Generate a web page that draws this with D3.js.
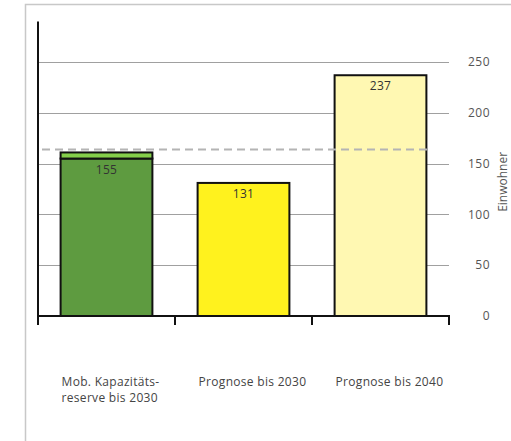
<!DOCTYPE html>
<html>
<head>
<meta charset="utf-8">
<script src="https://cdn.jsdelivr.net/npm/d3@7"></script>
<style>
  html, body { margin: 0; padding: 0; background: #fff; overflow: hidden; }
  svg { display: block; }
</style>
</head>
<body>
<script>
// Einwohner: mobilisierbare Kapazitätsreserve vs. Prognosen
const categories = ["Mob. Kapazitäts-\nreserve bis 2030", "Prognose bis 2030", "Prognose bis 2040"];
const values = [155, 131, 237];
const extraReserve = [6, 0, 0];
const barColors = ["#5e9b40", "#fff21e", "#fff8b2"];
const extraColor = "#84cf4a";
const referenceLine = 164;
const yTicks = [0, 50, 100, 150, 200, 250];
const axisTitle = "Einwohner";

const W = 511, H = 441;
const svg = d3.select("body").append("svg").attr("width", W).attr("height", H);

// outer frame
svg.append("rect").attr("x", 25.5).attr("y", 4.5).attr("width", W).attr("height", H)
  .attr("fill", "none").attr("stroke", "#c8c8c8").attr("stroke-width", 1.5);

const x0 = 38, x1 = 449;
const x = d3.scaleBand().domain(categories).range([x0, x1]).paddingInner(0.33).paddingOuter(0.165);
const y = d3.scaleLinear().domain([0, 290]).range([316, 21.4]);

const font = "'Open Sans', 'Noto Sans', sans-serif";

// horizontal grid lines
svg.append("g").selectAll("line").data(yTicks.filter(d => d > 0)).join("line")
  .attr("x1", x0).attr("x2", x1)
  .attr("y1", d => Math.round(y(d)) + 0.5).attr("y2", d => Math.round(y(d)) + 0.5)
  .attr("stroke", "#a0a0a0").attr("stroke-width", 1);

// right-hand tick labels
svg.append("g").selectAll("text").data(yTicks).join("text")
  .attr("x", 490).attr("y", d => y(d)).attr("dy", "0.35em")
  .attr("text-anchor", "end").attr("font-family", font).attr("font-size", 12)
  .attr("letter-spacing", 0.5)
  .attr("fill", "#555").text(d => d);

// axis title
svg.append("text")
  .attr("transform", `translate(507, ${y(132)}) rotate(-90)`)
  .attr("text-anchor", "middle").attr("font-family", font).attr("font-size", 12)
  .attr("fill", "#555").text(axisTitle);

// bars
const bars = svg.append("g");
bars.selectAll("rect.main").data(categories).join("rect").attr("class", "main")
  .attr("x", d => x(d)).attr("width", x.bandwidth())
  .attr("y", (d, i) => y(values[i])).attr("height", (d, i) => y(0) - y(values[i]))
  .attr("fill", (d, i) => barColors[i]).attr("stroke", "#111").attr("stroke-width", 2);

bars.selectAll("rect.extra").data(categories.filter((d, i) => extraReserve[i] > 0)).join("rect")
  .attr("class", "extra")
  .attr("x", d => x(d)).attr("width", x.bandwidth())
  .attr("y", d => y(values[categories.indexOf(d)] + extraReserve[categories.indexOf(d)]))
  .attr("height", d => y(values[categories.indexOf(d)]) - y(values[categories.indexOf(d)] + extraReserve[categories.indexOf(d)]))
  .attr("fill", extraColor).attr("stroke", "#111").attr("stroke-width", 2);

// value labels
svg.append("g").selectAll("text").data(categories).join("text")
  .attr("x", d => x(d) + x.bandwidth() / 2).attr("y", (d, i) => y(values[i]) + 15)
  .attr("text-anchor", "middle").attr("font-family", font).attr("font-size", 12)
  .attr("letter-spacing", 0.3)
  .attr("fill", "#333").text((d, i) => values[i]);

// dashed reference line
svg.append("line")
  .attr("x1", 42).attr("x2", x(categories[2]) + x.bandwidth() + 1)
  .attr("y1", y(referenceLine)).attr("y2", y(referenceLine))
  .attr("stroke", "#b4b4b4").attr("stroke-width", 2).attr("stroke-dasharray", "8,5");

// left axis line and baseline with category ticks
const axisG = svg.append("g").attr("stroke", "#111").attr("stroke-width", 2);
axisG.append("line").attr("x1", x0).attr("x2", x0).attr("y1", y(290)).attr("y2", y(0) + 9);
axisG.append("line").attr("x1", x0 - 1).attr("x2", x1 + 1).attr("y1", y(0)).attr("y2", y(0));
const step = x.step();
axisG.selectAll("line.tick").data(d3.range(1, categories.length + 1)).join("line").attr("class", "tick")
  .attr("x1", i => x0 + i * step).attr("x2", i => x0 + i * step)
  .attr("y1", y(0)).attr("y2", y(0) + 9);

// category labels
svg.append("g").selectAll("text").data(categories).join("text")
  .attr("x", d => x(d) + 1).attr("y", 386)
  .attr("font-family", font).attr("font-size", 12).attr("letter-spacing", 0.3).attr("fill", "#444")
  .each(function (d) {
    d3.select(this).selectAll("tspan").data(d.split("\n")).join("tspan")
      .attr("x", x(d) + 1).attr("dy", (t, j) => j ? 16 : 0).text(t => t);
  });
</script>
</body>
</html>
